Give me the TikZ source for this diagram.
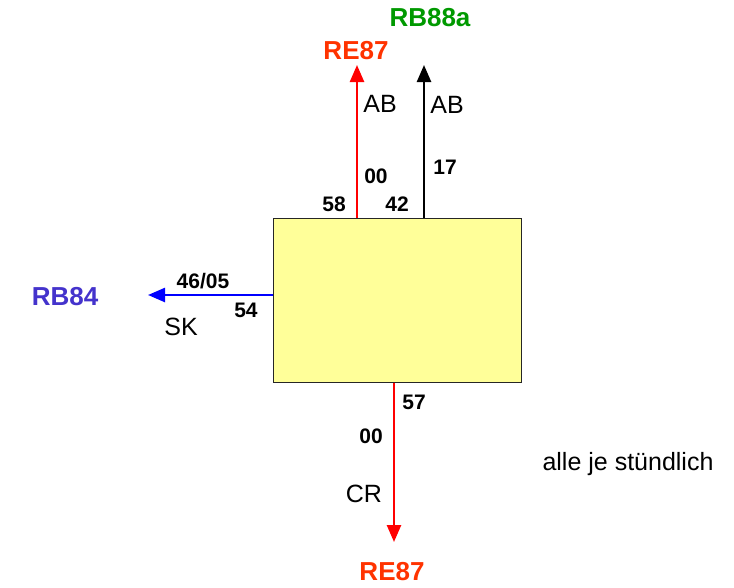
\documentclass[tikz,border=0pt]{standalone}
\usepackage{fontspec}
\setmainfont{Liberation Sans}
\usetikzlibrary{arrows.meta}
\definecolor{boxfill}{HTML}{FFFF99}
\definecolor{redline}{HTML}{FF0000}
\definecolor{redtext}{HTML}{FF3300}
\definecolor{greentext}{HTML}{009900}
\definecolor{bluetext}{HTML}{4433CC}
\definecolor{blueline}{HTML}{0000FF}
\begin{document}
\begin{tikzpicture}[x=1pt,y=-1pt,
  conn/.style={line width=2.5pt,-{Triangle[length=17pt,width=14pt]}},
  dest/.style={font=\fontsize{26}{26}\selectfont\bfseries,inner sep=0pt},
  num/.style={font=\fontsize{21}{21}\selectfont\bfseries,inner sep=0pt},
  lab/.style={font=\fontsize{25}{25}\selectfont,inner sep=0pt}]
\useasboundingbox (0,0) rectangle (734,587);
\node[draw=black!85,fill=boxfill,line width=1pt,minimum width=248pt,minimum height=164pt,inner sep=0pt] (box) at (397,300) {};
\coordinate (tA) at (357,65);
\coordinate (tB) at (424,65);
\coordinate (tC) at (148,295);
\coordinate (tD) at (394,542);
\draw[conn,redline] (box.north -| tA) -- (tA);
\draw[conn,black] (box.north -| tB) -- (tB);
\draw[conn,blueline] (box.west |- tC) -- (tC);
\draw[conn,redline] (box.south -| tD) -- (tD);
\node[dest,text=redtext] (re1) at (356,51) {RE87};
\node[dest,text=greentext] (rb88) at (430,18) {RB88a};
\node[dest,text=bluetext] (rb84) at (65,297) {RB84};
\node[dest,text=redtext] (re2) at (392,572) {RE87};
\node[lab] (ab1) at (380,104) {AB};
\node[lab] (ab2) at (447,105) {AB};
\node[num] (n00a) at (376,176) {00};
\node[num] (n17) at (445,167) {17};
\node[num] (n58) at (334,204) {58};
\node[num] (n42) at (397,204) {42};
\node[num] (n4605) at (203,281) {46/05};
\node[num] (n54) at (246,310) {54};
\node[lab] (sk) at (181,327) {SK};
\node[num] (n57) at (414,402) {57};
\node[num] (n00b) at (371,436) {00};
\node[lab] (cr) at (364,494) {CR};
\node[lab] (alle) at (628,464) {alle je stündlich};
\end{tikzpicture}
\end{document}
